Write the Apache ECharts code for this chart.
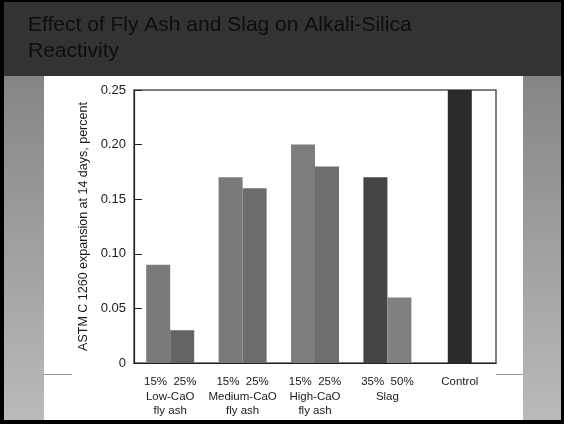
<!DOCTYPE html>
<html>
<head>
<meta charset="utf-8">
<script src="https://cdn.jsdelivr.net/npm/echarts@6/dist/echarts.min.js"></script>
<style>
html,body{margin:0;padding:0;width:564px;height:424px;overflow:hidden;background:#000;}
#chart{position:absolute;left:0;top:0;width:564px;height:424px;}
</style>
</head>
<body>
<div id="chart"></div>
<script>
// ---- data ----
var titleText = 'Effect of Fly Ash and Slag on Alkali-Silica\nReactivity';
var categories = ['15%  25%\nLow-CaO\nfly ash', '15%  25%\nMedium-CaO\nfly ash', '15%  25%\nHigh-CaO\nfly ash', '35%  50%\nSlag', 'Control'];
var firstBar  = [0.09, 0.17, 0.20, 0.17, '-'];
var secondBar = [0.03, 0.16, 0.18, 0.06, '-'];
var controlBar = ['-', '-', '-', '-', 0.25];
var firstColors  = ['#7a7a7a', '#7a7a7a', '#7d7d7d', '#454545'];
var secondColors = ['#646464', '#6c6c6c', '#6e6e6e', '#808080'];
var yAxisName = 'ASTM C 1260 expansion at 14 days, percent';

function colored(vals, cols){
  return vals.map(function(v,i){ return v === '-' ? '-' : {value: v, itemStyle: {color: cols[i]}}; });
}
var sideFill = {type: 'linear', x: 0, y: 0, x2: 0, y2: 1, colorStops: [{offset: 0, color: '#858585'}, {offset: 1, color: '#bababa'}]};

var chart = echarts.init(document.getElementById('chart'));
var font = 'Liberation Sans, Arial, Helvetica, sans-serif';
chart.setOption({
  animation: false,
  backgroundColor: '#000',
  graphic: [
    {type: 'rect', z: -10, silent: true, shape: {x: 4, y: 2, width: 557, height: 74}, style: {fill: '#333333'}},
    {type: 'rect', z: -10, silent: true, shape: {x: 4, y: 76, width: 40, height: 344}, style: {fill: sideFill}},
    {type: 'rect', z: -10, silent: true, shape: {x: 523, y: 76, width: 38, height: 344}, style: {fill: sideFill}},
    {type: 'rect', z: -10, silent: true, shape: {x: 44, y: 76, width: 479, height: 344}, style: {fill: '#ffffff'}},
    {type: 'line', z: -9, silent: true, shape: {x1: 44, y1: 374.5, x2: 72, y2: 374.5}, style: {stroke: '#999', lineWidth: 1}},
    {type: 'line', z: -9, silent: true, shape: {x1: 496, y1: 374.5, x2: 523, y2: 374.5}, style: {stroke: '#999', lineWidth: 1}}
  ],
  title: {
    text: titleText, left: 28, top: 12, padding: 0,
    textStyle: {fontFamily: font, fontSize: 21, fontWeight: 'normal', color: '#0e0e0e', lineHeight: 26}
  },
  grid: {left: 134, top: 90, width: 362, height: 273, show: true, borderColor: '#555', borderWidth: 1.5, backgroundColor: 'transparent'},
  xAxis: [{
    type: 'category', data: categories,
    axisLine: {lineStyle: {color: '#222', width: 1.2}},
    axisTick: {inside: true, length: 5, lineStyle: {color: '#222'}},
    axisLabel: {margin: 12, fontFamily: font, fontSize: 11.5, color: '#1a1a1a', lineHeight: 14.5, interval: 0}
  }, {
    type: 'category', data: categories, show: false
  }],
  yAxis: {
    type: 'value', min: 0, max: 0.25, interval: 0.05,
    name: yAxisName, nameLocation: 'middle', nameRotate: 90, nameGap: 44,
    nameTextStyle: {fontFamily: font, fontSize: 12.5, color: '#1a1a1a'},
    axisLine: {show: true, lineStyle: {color: '#222', width: 1.2}},
    axisTick: {show: true, inside: true, length: 8, lineStyle: {color: '#222'}},
    splitLine: {show: false},
    axisLabel: {margin: 8, fontFamily: font, fontSize: 13, color: '#1a1a1a',
      formatter: function(v){ return v === 0 ? '0' : v.toFixed(2); }}
  },
  series: [
    {type: 'bar', data: colored(firstBar, firstColors), barWidth: 24, barGap: '0%', xAxisIndex: 0},
    {type: 'bar', data: colored(secondBar, secondColors), barWidth: 24, barGap: '0%', xAxisIndex: 0},
    {type: 'bar', data: controlBar, barWidth: 24, xAxisIndex: 1, itemStyle: {color: '#2b2b2b'}}
  ]
});
</script>
</body>
</html>
